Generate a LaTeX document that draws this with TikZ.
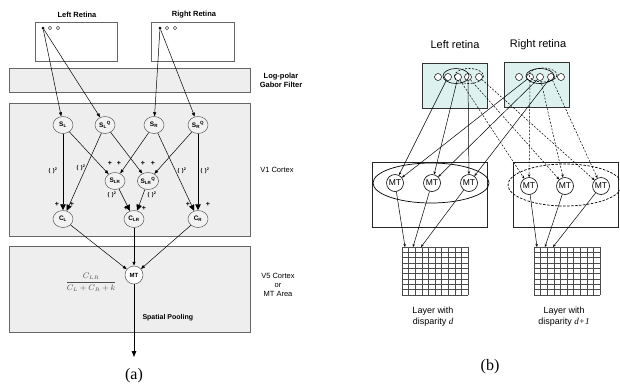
\documentclass[tikz,border=0pt]{standalone}
\usepackage{fontspec}
\setmainfont{Liberation Serif}
\setsansfont{Liberation Sans}
\usetikzlibrary{arrows.meta,shapes.geometric}
\begin{document}
\begin{tikzpicture}[x=1pt,y=-1pt,
  panel/.style={draw=gray!80!black, fill=gray!13, line width=0.6pt},
  retbox/.style={draw=gray!80!black, fill=white, line width=0.6pt},
  lab/.style={font=\sffamily\bfseries\fontsize{7.5}{8.5}\selectfont},
  sidelab/.style={font=\sffamily\fontsize{7.5}{9}\selectfont, align=center},
  cellnode/.style={ellipse, draw=gray!70!black, fill=gray!10, line width=0.5pt, minimum width=20pt, minimum height=17pt, inner sep=0pt, font=\sffamily\bfseries\fontsize{6.5}{7}\selectfont},
  mtA/.style={circle, draw=gray!70!black, fill=white, line width=0.5pt, minimum size=18pt, inner sep=0pt, font=\sffamily\bfseries\fontsize{6}{7}\selectfont},
  dotf/.style={circle, fill=black, minimum size=3pt, inner sep=0pt},
  doto/.style={circle, draw=gray!60!black, minimum size=3.5pt, inner sep=0pt, line width=0.4pt},
  arr/.style={-{Triangle[length=4pt,width=3pt]}, line width=0.5pt},
  bigarr/.style={-{Triangle[length=6pt,width=5.5pt]}, line width=0.5pt},
  thickarr/.style={-{Triangle[length=6pt,width=5.5pt]}, line width=0.9pt},
  sq/.style={font=\sffamily\bfseries\fontsize{5.5}{6}\selectfont, inner sep=0pt},
  pl/.style={font=\sffamily\bfseries\fontsize{7}{7}\selectfont, inner sep=0pt},
  capt/.style={font=\rmfamily\fontsize{16}{18}\selectfont},
  cyanbox/.style={draw=gray!40!black, fill={rgb,255:red,221;green,242;blue,239}, line width=0.8pt},
  rc/.style={circle, draw=black, fill=white, minimum size=7pt, inner sep=0pt, line width=0.5pt},
  mtbox/.style={draw=gray!30!black, line width=1pt},
  mtB/.style={circle, draw=black, fill=white, line width=0.6pt, minimum size=17pt, inner sep=0pt, font=\sffamily\fontsize{8.5}{9}\selectfont},
  bl/.style={line width=0.5pt, -{Stealth[length=3pt,width=2.5pt]}},
  dl/.style={line width=0.5pt, dashed, dash pattern=on 2pt off 1.5pt, -{Stealth[length=3pt,width=2.5pt]}},
  gridline/.style={draw=gray!60!black, line width=0.5pt},
  blab/.style={font=\sffamily\fontsize{11}{13}\selectfont},
  llab/.style={font=\sffamily\fontsize{9}{11}\selectfont, align=center}
]
\useasboundingbox (0,0) rectangle (620,389);

% ================= panel (a) =================
\node[lab] (lrlab) at (77,15) {Left Retina};
\node[lab] (rrlab) at (194,15) {Right Retina};
\draw[retbox] (35,22) rectangle (117,61);
\draw[retbox] (151,22) rectangle (234,61);
\node[dotf] (ld) at (43,28) {};
\node[doto] (lo1) at (50,28) {};
\node[doto] (lo2) at (58,28) {};
\node[dotf] (rd) at (160,28) {};
\node[doto] (ro1) at (167,28) {};
\node[doto] (ro2) at (175,28) {};

\draw[panel] (9,68) rectangle (250,92);
\draw[panel] (9,103) rectangle (250,236);
\draw[panel] (9,246) rectangle (250,332);

\node[sidelab, font=\sffamily\bfseries\fontsize{7.5}{9}\selectfont] (gab) at (281,80) {Log-polar\\Gabor Filter};
\node[sidelab] (v1) at (277,170) {V1 Cortex};
\node[sidelab] (v5) at (278,285) {V5 Cortex\\or\\MT Area};

\node[cellnode] (SL) at (63,125) {S\textsubscript{L}};
\node[cellnode] (SLQ) at (105,125) {S\textsubscript{L}\textsuperscript{Q}};
\node[cellnode] (SR) at (154,125) {S\textsubscript{R}};
\node[cellnode] (SRQ) at (198,125) {S\textsubscript{R}\textsuperscript{Q}};
\node[cellnode] (SLR) at (115,181) {S\textsubscript{LR}};
\node[cellnode] (SLRQ) at (148,181) {S\textsubscript{LR}\textsuperscript{Q}};
\node[cellnode] (CL) at (63,219) {C\textsubscript{L}};
\node[cellnode] (CLR) at (134,219) {C\textsubscript{LR}};
\node[cellnode] (CR) at (198,219) {C\textsubscript{R}};
\node[mtA] (MTa) at (134,275) {MT};

\draw[arr] (ld) -- (SL);
\draw[arr] (ld) -- (SLQ);
\draw[arr] (rd) -- (SR);
\draw[arr] (rd) -- (SRQ);

\draw[thickarr] (SL) -- (CL);
\draw[bigarr] (SLQ) -- (CL);
\draw[arr] (SL) -- (SLR);
\draw[arr] (SLQ) -- (SLRQ);
\draw[arr] (SR) -- (SLR);
\draw[arr] (SRQ) -- (SLRQ);
\draw[bigarr] (SR) -- (CR);
\draw[thickarr] (SRQ) -- (CR);
\draw[bigarr] (SLR) -- (CLR);
\draw[bigarr] (SLRQ) -- (CLR);

\node[sq] (q1) at (53,171) {(\hspace{2.5pt})\textsuperscript{2}};
\node[sq] (q2) at (81,168) {(\hspace{2.5pt})\textsuperscript{2}};
\node[sq] (q3) at (182,171) {(\hspace{2.5pt})\textsuperscript{2}};
\node[sq] (q4) at (205,171) {(\hspace{2.5pt})\textsuperscript{2}};
\node[sq] (q5) at (112,195) {(\hspace{2.5pt})\textsuperscript{2}};
\node[sq] (q6) at (152,195) {(\hspace{2.5pt})\textsuperscript{2}};

\node[pl] (p1) at (110,163) {+};
\node[pl] (p2) at (119,163) {+};
\node[pl] (p3) at (143,163) {+};
\node[pl] (p4) at (153,163) {+};
\node[pl] (p5) at (57,204) {+};
\node[pl] (p6) at (72,204) {+};
\node[pl] (p7) at (126,208) {+};
\node[pl] (p8) at (144,208) {+};
\node[pl] (p9) at (188,204) {+};
\node[pl] (p10) at (208,204) {+};

\draw[arr] (CL) -- (MTa);
\draw[arr, line width=0.7pt] (CLR) -- (MTa);
\draw[arr] (CR) -- (MTa);
\coordinate (outp) at (134,357);
\draw[-{Triangle[length=6pt,width=4.5pt]}, line width=0.9pt] (MTa) -- (outp);

\node[text=gray!60!black, font=\fontsize{7.8}{9}\selectfont] (frac) at (91,282) {$\displaystyle\frac{C_{LR}}{C_L+C_R+k}$};
\node[font=\sffamily\bfseries\fontsize{7}{8}\selectfont, anchor=west] (sp) at (139,318) {Spatial Pooling};
\node[capt] (ca) at (134,376) {(a)};

% ================= panel (b) =================
\node[blab] (blr) at (455,45) {Left retina};
\node[blab] (brr) at (538,45) {Right retina};
\draw[cyanbox] (422,63) rectangle (487,108);
\draw[cyanbox] (504,62) rectangle (569,107);

\node[rc] (lc1) at (438,77) {};
\node[rc] (lc2) at (448,77) {};
\node[rc] (lc3) at (458,77) {};
\node[rc] (lc4) at (468,77) {};
\node[rc] (lc5) at (479,77) {};
\node[rc] (rc1) at (519,77) {};
\node[rc] (rc2) at (530,77) {};
\node[rc] (rc3) at (540,77) {};
\node[rc] (rc4) at (551,77) {};
\node[rc] (rc5) at (561,77) {};

\draw[line width=0.6pt] (456,76) ellipse [x radius=13, y radius=7.5];
\draw[line width=0.6pt, dashed, dash pattern=on 2pt off 1.5pt] (469,76) ellipse [x radius=14.5, y radius=7.5];
\draw[line width=0.6pt] (540,76) ellipse [x radius=14, y radius=7.5];
\draw[line width=0.6pt, dashed, dash pattern=on 2pt off 1.5pt] (543,75) ellipse [x radius=14, y radius=7];

\draw[mtbox] (372,162) rectangle (487,227);
\draw[mtbox] (513,162) rectangle (618,227);
\draw[line width=0.7pt] (431,183) ellipse [x radius=58, y radius=20];
\draw[line width=0.7pt, dashed, dash pattern=on 2.5pt off 1.5pt] (565,185) ellipse [x radius=57, y radius=21];

\node[mtB] (mt1) at (395,183) {MT};
\node[mtB] (mt2) at (432,183) {MT};
\node[mtB] (mt3) at (469,183) {MT};
\node[mtB] (mt4) at (529,186) {MT};
\node[mtB] (mt5) at (565,186) {MT};
\node[mtB] (mt6) at (601,186) {MT};

\draw[bl] (lc2) -- (mt1);
\draw[bl] (lc3) -- (mt2);
\draw[bl] (lc4) -- (mt3);
\draw[bl] (rc2) -- (mt1);
\draw[bl] (rc3) -- (mt2);
\draw[bl] (rc4) -- (mt3);
\draw[dl] (lc3) -- (mt4);
\draw[dl] (lc4) -- (mt5);
\draw[dl] (lc5) -- (mt6);
\draw[dl] (rc2) -- (mt4);
\draw[dl] (rc3) -- (mt5);
\draw[dl] (rc4) -- (mt6);

% grids
\foreach \i in {0,...,10} {
  \draw[gridline] ({402+6.6*\i},247) -- ({402+6.6*\i},295);
  \draw[gridline] ({534+6.6*\i},247) -- ({534+6.6*\i},295);
}
\foreach \j in {0,...,9} {
  \draw[gridline] (402,{247+48/9*\j}) -- (468,{247+48/9*\j});
  \draw[gridline] (534,{247+48/9*\j}) -- (600,{247+48/9*\j});
}
\coordinate (g1) at (405,247);
\coordinate (g2) at (413,247);
\coordinate (g3) at (421,247);
\coordinate (g4) at (537,247);
\coordinate (g5) at (545,247);
\coordinate (g6) at (553,247);
\draw[bl] (mt1) -- (g1);
\draw[bl] (mt2) -- (g2);
\draw[bl] (mt3) -- (g3);
\draw[bl] (mt4) -- (g4);
\draw[bl] (mt5) -- (g5);
\draw[bl] (mt6) -- (g6);

\node[llab] (ld1) at (433,317) {Layer with\\disparity {\rmfamily\itshape d}};
\node[llab] (ld2) at (564,317) {Layer with\\disparity {\rmfamily\itshape d+1}};
\node[capt] (cb) at (490,367) {(b)};
\end{tikzpicture}
\end{document}
